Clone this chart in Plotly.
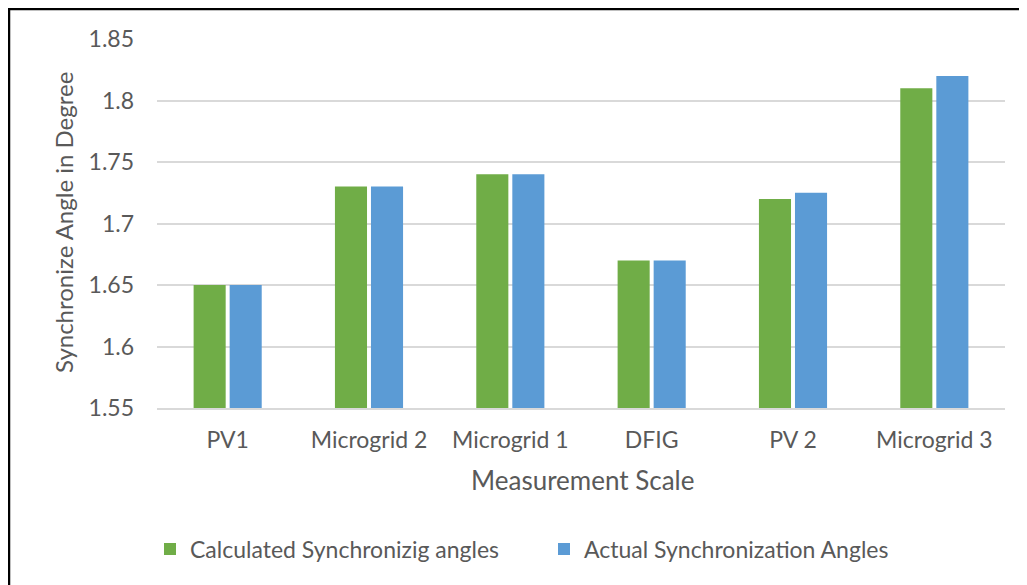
import plotly.graph_objects as go

categories = ["PV1", "Microgrid 2", "Microgrid 1", "DFIG", "PV 2", "Microgrid 3"]
calculated = [1.65, 1.73, 1.74, 1.67, 1.72, 1.81]
actual = [1.65, 1.73, 1.74, 1.67, 1.725, 1.82]
y_ticks = [1.55, 1.6, 1.65, 1.7, 1.75, 1.8, 1.85]
y_tick_text = ["1.55", "1.6", "1.65", "1.7", "1.75", "1.8", "1.85"]

OFF = 8  # page body margin
W, H = 1027 - OFF, 585 - OFF
L, R, T, B = 157 - OFF, 22, 39 - OFF, 177
pw, ph = W - L - R, H - T - B

def px_x(p):
    return (p - OFF - L) / pw

def px_y(p):
    return (H - B - (p - OFF)) / ph

FONT = "Lato"
GREY = "#595959"

fig = go.Figure()
fig.add_trace(go.Bar(x=categories, y=calculated, name="Calculated Synchronizig angles",
                     marker=dict(color="#70AD47", line=dict(width=0))))
fig.add_trace(go.Bar(x=categories, y=actual, name="Actual Synchronization Angles",
                     marker=dict(color="#5B9BD5", line=dict(width=0))))

fig.update_layout(
    width=W, height=H,
    margin=dict(l=L, r=R, t=T, b=B, autoexpand=False),
    paper_bgcolor="white", plot_bgcolor="white",
    barmode="group", bargap=0.49, bargroupgap=0.11,
    font=dict(family=FONT, color=GREY, size=23),
    showlegend=True,
    legend=dict(orientation="h", x=px_x(150), xanchor="left", y=px_y(549), yanchor="middle",
                font=dict(size=23, color=GREY), itemwidth=30, traceorder="normal",
                entrywidth=349, entrywidthmode="pixels"),
)
fig.update_xaxes(showgrid=False, showline=True, linecolor="#D9D9D9", linewidth=1.5,
                 ticks="", tickfont=dict(size=23, color=GREY), ticklabelstandoff=11)
fig.update_yaxes(range=[1.55, 1.85], tickvals=y_ticks, ticktext=y_tick_text,
                 showgrid=True, gridcolor="#D9D9D9", gridwidth=1.5, zeroline=False,
                 showline=False, ticks="", tickfont=dict(size=23, color=GREY),
                 ticklabelstandoff=22)

fig.add_annotation(text="Synchronize Angle in Degree", xref="paper", yref="paper",
                   x=px_x(63), y=px_y(223), textangle=-90, showarrow=False,
                   font=dict(size=24, color=GREY), xanchor="center", yanchor="middle")
fig.add_annotation(text="Measurement Scale", xref="paper", yref="paper",
                   x=px_x(582), y=px_y(480), showarrow=False,
                   font=dict(size=26, color=GREY), xanchor="center", yanchor="middle")

fig.add_shape(type="rect", xref="paper", yref="paper",
              x0=px_x(OFF + 1), x1=px_x(1060), y0=px_y(620), y1=px_y(OFF + 1),
              line=dict(color="black", width=2.5), fillcolor="rgba(0,0,0,0)", layer="above")

fig.write_html("out.html")
